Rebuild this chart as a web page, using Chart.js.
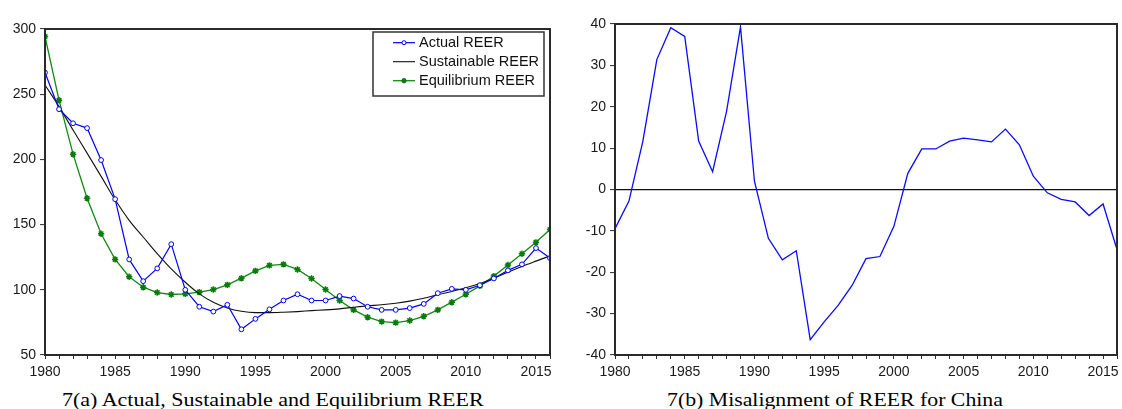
<!DOCTYPE html>
<html>
<head>
<meta charset="utf-8">
<script src="https://cdn.jsdelivr.net/npm/chart.js@4/dist/chart.umd.min.js"></script>
<style>
  html, body { margin: 0; padding: 0; background: #fff; }
  body { width: 1122px; height: 409px; position: relative; overflow: hidden; }
  .panel { position: absolute; top: 0; height: 380px; }
  #left { left: 0; width: 560px; }
  #right { left: 560px; width: 562px; }
  .caption {
    position: absolute; top: 390px; margin: 0;
    font-family: "Liberation Serif", "Times New Roman", serif;
    font-size: 19px; line-height: 19px; color: #000; white-space: nowrap;
    transform-origin: left top;
  }
  #capA { left: 62px; transform: scaleX(1.158); }
  #capB { left: 667px; transform: scaleX(1.147); }
</style>
</head>
<body>
<div class="panel" id="left"><canvas id="reerChart"></canvas></div>
<div class="panel" id="right"><canvas id="misChart"></canvas></div>
<p class="caption" id="capA">7(a) Actual, Sustainable and Equilibrium REER</p>
<p class="caption" id="capB">7(b) Misalignment of REER for China</p>

<script>
// Years 1980–2016
const years = [1980, 1981, 1982, 1983, 1984, 1985, 1986, 1987, 1988, 1989,
               1990, 1991, 1992, 1993, 1994, 1995, 1996, 1997, 1998, 1999,
               2000, 2001, 2002, 2003, 2004, 2005, 2006, 2007, 2008, 2009,
               2010, 2011, 2012, 2013, 2014, 2015, 2016];

// Real effective exchange rate index, China
const actualREER = [266.6, 238.5, 227.7, 224.0, 199.5, 169.5, 123.3, 106.6, 116.4, 135.0,
                    100.0, 87.0, 83.3, 88.5, 69.7, 77.7, 85.0, 91.8, 96.6, 91.8,
                    91.8, 95.2, 93.3, 87.0, 84.6, 84.6, 86.0, 89.2, 97.4, 100.7,
                    100.0, 103.5, 108.7, 114.9, 119.5, 132.0, 124.3];

const sustainableREER = [257.0, 240.5, 222.5, 204.8, 187.0, 169.0, 153.3, 140.5, 127.7, 116.0,
                         105.8, 96.9, 90.5, 86.1, 83.5, 82.5, 82.5, 82.8, 83.3, 84.0,
                         84.6, 85.4, 86.6, 87.7, 88.5, 89.7, 91.3, 93.5, 96.2, 98.7,
                         101.5, 104.8, 108.9, 113.5, 117.9, 122.0, 126.0];

const equilibriumREER = [294.3, 245.4, 204.0, 170.2, 143.0, 123.3, 110.0, 102.0, 97.9, 96.4,
                         96.9, 98.2, 100.2, 103.8, 108.9, 114.5, 118.7, 119.5, 115.6, 108.7,
                         100.2, 91.8, 84.6, 79.0, 75.6, 74.8, 76.4, 79.7, 84.6, 90.5,
                         96.6, 103.0, 110.5, 119.0, 127.7, 136.4, 146.2];

// Misalignment (%)
const misalignment = [-9.5, -2.8, 11.7, 31.4, 39.1, 37.0, 11.7, 4.3, 18.9, 39.3,
                      2.0, -11.8, -17.0, -14.8, -36.3, -32.0, -28.0, -23.2, -16.7, -16.2,
                      -8.9, 3.9, 9.8, 9.8, 11.7, 12.4, 12.0, 11.5, 14.6, 10.8,
                      3.2, -0.8, -2.4, -3.0, -6.3, -3.5, -14.5];

// Axis tick values
const reerTicks = [50, 100, 150, 200, 250, 300];
const misTicks = [-40, -30, -20, -10, 0, 10, 20, 30, 40];
const yearLabelEvery = 5;

const AXIS_COLOR = '#2a2a2a';
const TICK_FONT = { family: "'Liberation Sans', Arial, sans-serif", size: 14 };

const pairs = (ys) => years.map((yr, i) => ({ x: yr, y: ys[i] }));

// Outline around the plotting area
const frame = {
  id: 'frame',
  afterDatasetsDraw(chart) {
    const a = chart.chartArea, ctx = chart.ctx;
    ctx.save();
    ctx.strokeStyle = AXIS_COLOR;
    ctx.lineWidth = 2;
    ctx.strokeRect(a.left, a.top, a.right - a.left, a.bottom - a.top);
    ctx.restore();
  }
};

// Boxed legend in the upper-right corner of the plot
const boxLegend = {
  id: 'boxLegend',
  afterDraw(chart) {
    const a = chart.chartArea, ctx = chart.ctx;
    const w = 171, h = 64;
    const x0 = a.right - 6 - w, y0 = a.top + 3;
    ctx.save();
    ctx.fillStyle = '#fff';
    ctx.fillRect(x0, y0, w, h);
    ctx.strokeStyle = '#333';
    ctx.lineWidth = 1.5;
    ctx.strokeRect(x0, y0, w, h);
    ctx.font = "14.5px 'Liberation Sans', Arial, sans-serif";
    ctx.textBaseline = 'middle';
    chart.data.datasets.forEach((ds, i) => {
      const cy = y0 + 10.7 + i * 19;
      const lx0 = x0 + 20, lx1 = x0 + 42, mx = (lx0 + lx1) / 2;
      ctx.strokeStyle = ds.borderColor;
      ctx.lineWidth = ds.borderWidth;
      ctx.beginPath();
      ctx.moveTo(lx0, cy);
      ctx.lineTo(lx1, cy);
      ctx.stroke();
      if (ds.pointRadius > 0) {
        ctx.fillStyle = ds.pointBackgroundColor;
        ctx.strokeStyle = ds.pointBorderColor;
        ctx.lineWidth = ds.pointBorderWidth;
        Chart.helpers.drawPoint(ctx, {
          pointStyle: ds.pointStyle,
          radius: ds.pointStyle === 'circle' ? 2 : 2.6,
          borderWidth: ds.pointBorderWidth
        }, mx, cy);
      }
      ctx.fillStyle = '#111';
      ctx.fillText(ds.label, x0 + 46, cy + 0.5);
    });
    ctx.restore();
  }
};

function yearAxis() {
  return {
    type: 'linear',
    min: years[0],
    max: years[years.length - 1],
    afterFit(scale) { scale.height = 25; },
    afterBuildTicks(scale) { scale.ticks = years.map(v => ({ value: v })); },
    grid: {
      drawOnChartArea: false, drawTicks: true, tickLength: 4,
      tickColor: AXIS_COLOR, tickWidth: 1
    },
    border: { display: true, color: AXIS_COLOR, width: 2 },
    ticks: {
      autoSkip: false, maxRotation: 0, padding: 5,
      color: '#1a1a1a', font: TICK_FONT,
      callback: (v) => (v % yearLabelEvery === 0 ? String(v) : '')
    }
  };
}

function valueAxis(tickValues, width, zeroLine) {
  return {
    type: 'linear',
    min: tickValues[0],
    max: tickValues[tickValues.length - 1],
    afterFit(scale) { scale.width = width; },
    afterBuildTicks(scale) { scale.ticks = tickValues.map(v => ({ value: v })); },
    grid: {
      drawOnChartArea: !!zeroLine,
      color: (c) => (zeroLine && c.tick && c.tick.value === 0 ? '#111' : 'rgba(0,0,0,0)'),
      lineWidth: 1.2,
      drawTicks: true, tickLength: 5, tickColor: AXIS_COLOR, tickWidth: 1
    },
    border: { display: true, color: AXIS_COLOR, width: 2 },
    ticks: { padding: 4, color: '#1a1a1a', font: TICK_FONT }
  };
}

const common = {
  responsive: true,
  maintainAspectRatio: false,
  animation: false,
  events: [],
  plugins: { legend: { display: false }, tooltip: { enabled: false } }
};

new Chart(document.getElementById('reerChart'), {
  type: 'line',
  data: {
    datasets: [
      {
        label: 'Actual REER', data: pairs(actualREER),
        borderColor: '#0000ff', borderWidth: 1.2,
        pointStyle: 'circle', pointRadius: 2.4, pointBorderWidth: 1,
        pointBackgroundColor: '#ffffff', pointBorderColor: '#0000ff', order: 1
      },
      {
        label: 'Sustainable REER', data: pairs(sustainableREER),
        borderColor: '#111111', borderWidth: 1.1, pointRadius: 0,
        cubicInterpolationMode: 'monotone', order: 2
      },
      {
        label: 'Equilibrium REER', data: pairs(equilibriumREER),
        borderColor: '#108a10', borderWidth: 1.3,
        pointStyle: 'star', pointRadius: 3.2, pointBorderWidth: 1.5,
        pointBackgroundColor: '#0a7a0a', pointBorderColor: '#0a7a0a', order: 3
      }
    ]
  },
  options: {
    ...common,
    layout: { padding: { top: 29, right: 10, left: 0, bottom: 0 } },
    scales: { x: yearAxis(), y: valueAxis(reerTicks, 45, false) }
  },
  plugins: [frame, boxLegend]
});

new Chart(document.getElementById('misChart'), {
  type: 'line',
  data: {
    datasets: [
      {
        label: 'Misalignment', data: pairs(misalignment),
        borderColor: '#0a0aff', borderWidth: 1.3, pointRadius: 0
      }
    ]
  },
  options: {
    ...common,
    layout: { padding: { top: 24, right: 4, left: 0, bottom: 0 } },
    scales: { x: yearAxis(), y: valueAxis(misTicks, 55, true) }
  },
  plugins: [frame]
});
</script>
</body>
</html>
